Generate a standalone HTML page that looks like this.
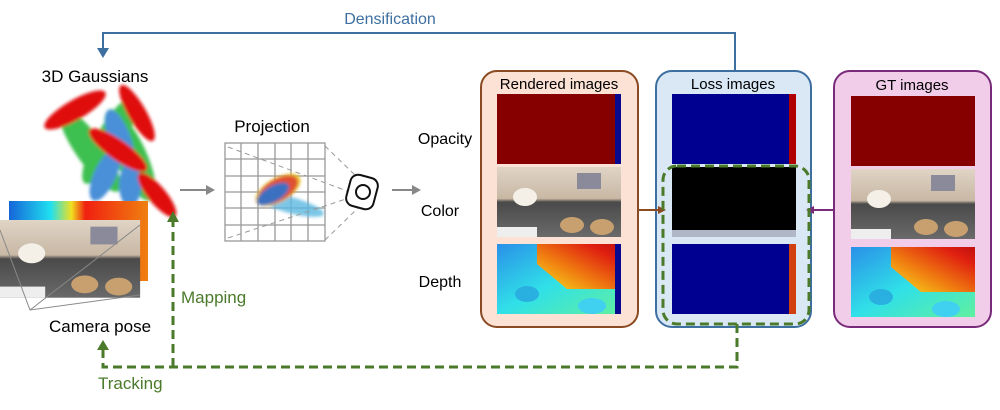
<!DOCTYPE html>
<html><head><meta charset="utf-8"><style>
body{margin:0;width:1000px;height:405px;background:#fff;overflow:hidden;font-family:"Liberation Sans",sans-serif}
</style></head><body>
<svg width="1000" height="405" viewBox="0 0 1000 405" xmlns="http://www.w3.org/2000/svg">
<defs>
<linearGradient id="jet" x1="0" x2="1"><stop offset="0" stop-color="#1565d8"/><stop offset=".3" stop-color="#20e0f0"/><stop offset=".45" stop-color="#f0e020"/><stop offset=".55" stop-color="#f02010"/><stop offset="1" stop-color="#f08010"/></linearGradient>
<linearGradient id="depL" x1="0" y1="0" x2="1" y2="1"><stop offset="0" stop-color="#2a90e8"/><stop offset=".5" stop-color="#30e0e8"/><stop offset="1" stop-color="#60f0a0"/></linearGradient>
<linearGradient id="depR" x1="0" y1="1" x2="1" y2="0"><stop offset="0" stop-color="#f8e020"/><stop offset=".4" stop-color="#f08010"/><stop offset=".8" stop-color="#e02010"/><stop offset="1" stop-color="#c01010"/></linearGradient>
<linearGradient id="room" x1="0" y1="0" x2="0" y2="1"><stop offset="0" stop-color="#e0d4c6"/><stop offset=".45" stop-color="#c8b8a4"/><stop offset=".5" stop-color="#4a4a4a"/><stop offset="1" stop-color="#6a6a6a"/></linearGradient>
<filter id="bl"><feGaussianBlur stdDeviation="1.5"/></filter>
<g id="depth"><rect width="124" height="70" fill="url(#depL)"/><path d="M40 0H124V45H70L40 20Z" fill="url(#depR)"/><ellipse cx="30" cy="50" rx="12" ry="8" fill="#2ab0e0"/><ellipse cx="95" cy="62" rx="14" ry="8" fill="#40d0f0"/></g>
<g id="rm"><rect width="124" height="70" fill="url(#room)"/><ellipse cx="28" cy="30" rx="12" ry="9" fill="#f4f0e8"/><ellipse cx="75" cy="58" rx="12" ry="8" fill="#c8a070"/><ellipse cx="105" cy="60" rx="12" ry="8" fill="#c8a070"/><rect x="80" y="6" width="24" height="16" fill="#8a8a9a"/><rect x="0" y="60" width="40" height="10" fill="#eee"/></g>
</defs>
<text x="390" y="24" font-size="16" fill="#3d6fa0" text-anchor="middle">Densification</text>
<polyline points="735,70 735,33 103,33 103,50" fill="none" stroke="#3d6fa0" stroke-width="2"/>
<polygon points="97,48 109,48 103,58" fill="#3d6fa0"/>
<text x="95" y="82" font-size="17" text-anchor="middle">3D Gaussians</text>
<g filter="url(#bl)">
<ellipse cx="90" cy="150" rx="14" ry="50" fill="#3cc050" transform="rotate(-35 90 150)"/>
<ellipse cx="110" cy="140" rx="14" ry="50" fill="#3cc050" transform="rotate(30 110 140)"/>
<ellipse cx="130" cy="155" rx="16" ry="50" fill="#3cc050" transform="rotate(-25 130 155)"/>
<ellipse cx="120" cy="140" rx="11" ry="32" fill="#4a90d8" transform="rotate(-20 120 140)"/>
<ellipse cx="105" cy="175" rx="11" ry="28" fill="#4a90d8" transform="rotate(25 105 175)"/>
<ellipse cx="130" cy="185" rx="11" ry="22" fill="#4a90d8"/>
<ellipse cx="75" cy="110" rx="10" ry="35" fill="#e01010" transform="rotate(60 75 110)"/>
<ellipse cx="137" cy="113" rx="9" ry="32" fill="#e01010" transform="rotate(-30 137 113)"/>
<ellipse cx="118" cy="150" rx="10" ry="35" fill="#e01010" transform="rotate(-55 118 150)"/>
<ellipse cx="157" cy="195" rx="9" ry="28" fill="#e01010" transform="rotate(-40 157 195)"/>
</g>
<rect x="9" y="201" width="139" height="80" fill="url(#jet)"/>
<use href="#rm" transform="translate(0 220) scale(1.13 1.11)"/>
<polyline points="0,230 30,310 140,295" fill="none" stroke="#888" stroke-width="1"/>
<line x1="30" y1="310" x2="140" y2="225" stroke="#888"/>
<text x="100" y="332" font-size="17" text-anchor="middle">Camera pose</text>
<text x="272" y="132" font-size="17" text-anchor="middle">Projection</text>
<g stroke="#999" stroke-width="1.3" fill="none">
<rect x="225" y="143" width="100" height="98"/>
<path d="M241 143V241M258 143V241M275 143V241M291 143V241M308 143V241M225 159H325M225 176H325M225 192H325M225 208H325M225 225H325"/>
</g>
<g filter="url(#bl)"><ellipse cx="290" cy="205" rx="35" ry="8" fill="#5ab8e0" opacity=".8" transform="rotate(15 290 205)"/>
<ellipse cx="278" cy="190" rx="12" ry="25" fill="#e8c020" transform="rotate(60 278 190)"/>
<ellipse cx="278" cy="190" rx="11" ry="22" fill="#e05030" transform="rotate(60 278 190)"/>
<ellipse cx="273" cy="194" rx="8" ry="18" fill="#3a70c0" transform="rotate(60 273 194)"/></g>
<g stroke="#999" stroke-dasharray="5,4" fill="none"><path d="M228 147L358 195M228 238L358 195M325 146L358 178M325 240L358 208"/></g>
<rect x="348" y="176" width="28" height="32" rx="8" fill="#fff" stroke="#111" stroke-width="2" transform="rotate(15 362 192)"/>
<circle cx="363" cy="192" r="7" fill="none" stroke="#111" stroke-width="2"/>
<line x1="180" y1="190" x2="208" y2="190" stroke="#888" stroke-width="2"/><polygon points="206,185 215,190 206,195" fill="#888"/>
<line x1="392" y1="190" x2="414" y2="190" stroke="#888" stroke-width="2"/><polygon points="412,185 421,190 412,195" fill="#888"/>
<text x="445" y="144" font-size="16" text-anchor="middle">Opacity</text>
<text x="440" y="216" font-size="16" text-anchor="middle">Color</text>
<text x="440" y="287" font-size="16" text-anchor="middle">Depth</text>
<rect x="481" y="71" width="157" height="256" rx="16" fill="#fbe2d4" stroke="#8a4a22" stroke-width="2"/>
<rect x="656" y="71" width="155" height="256" rx="16" fill="#d9e8f4" stroke="#3d6fa0" stroke-width="2"/>
<rect x="834" y="71" width="157" height="256" rx="16" fill="#f2cdea" stroke="#7a2a7a" stroke-width="2"/>
<text x="559" y="89" font-size="15" text-anchor="middle">Rendered images</text>
<text x="733" y="89" font-size="15" text-anchor="middle">Loss images</text>
<text x="912" y="90" font-size="15" text-anchor="middle">GT images</text>
<rect x="497" y="94" width="124" height="70" fill="#860000"/><rect x="615" y="94" width="6" height="70" fill="#0a0a90"/>
<use href="#rm" x="497" y="167"/>
<use href="#depth" x="497" y="244"/><rect x="615" y="244" width="6" height="70" fill="#0a0a90"/>
<rect x="672" y="94" width="124" height="70" fill="#000090"/><rect x="789" y="94" width="7" height="70" fill="#b00000"/>
<rect x="672" y="167" width="124" height="70" fill="#000"/><rect x="672" y="230" width="124" height="7" fill="#b0b8c8"/>
<rect x="672" y="244" width="124" height="70" fill="#000090"/><rect x="789" y="244" width="7" height="70" fill="#d04010"/>
<rect x="851" y="96" width="124" height="70" fill="#860000"/>
<use href="#rm" x="851" y="169"/>
<use href="#depth" x="851" y="247"/>
<line x1="638" y1="210" x2="660" y2="210" stroke="#8a4a22" stroke-width="2"/><polygon points="658,206 666,210 658,214" fill="#8a4a22"/>
<line x1="834" y1="210" x2="812" y2="210" stroke="#7a2a7a" stroke-width="2"/><polygon points="814,206 806,210 814,214" fill="#7a2a7a"/>
<g stroke="#4a7a2a" stroke-width="3" stroke-dasharray="9,5" fill="none">
<rect x="663" y="166" width="146" height="158" rx="14"/>
<polyline points="737,324 737,367 103,367 103,348"/>
<line x1="173" y1="367" x2="173" y2="218"/>
</g>
<polygon points="97,350 109,350 103,340" fill="#4a7a2a"/>
<polygon points="167,222 179,222 173,211" fill="#4a7a2a"/>
<text x="181" y="303" font-size="17" fill="#4a7a2a">Mapping</text>
<text x="98" y="389" font-size="17" fill="#4a7a2a">Tracking</text>
</svg>
</body></html>
